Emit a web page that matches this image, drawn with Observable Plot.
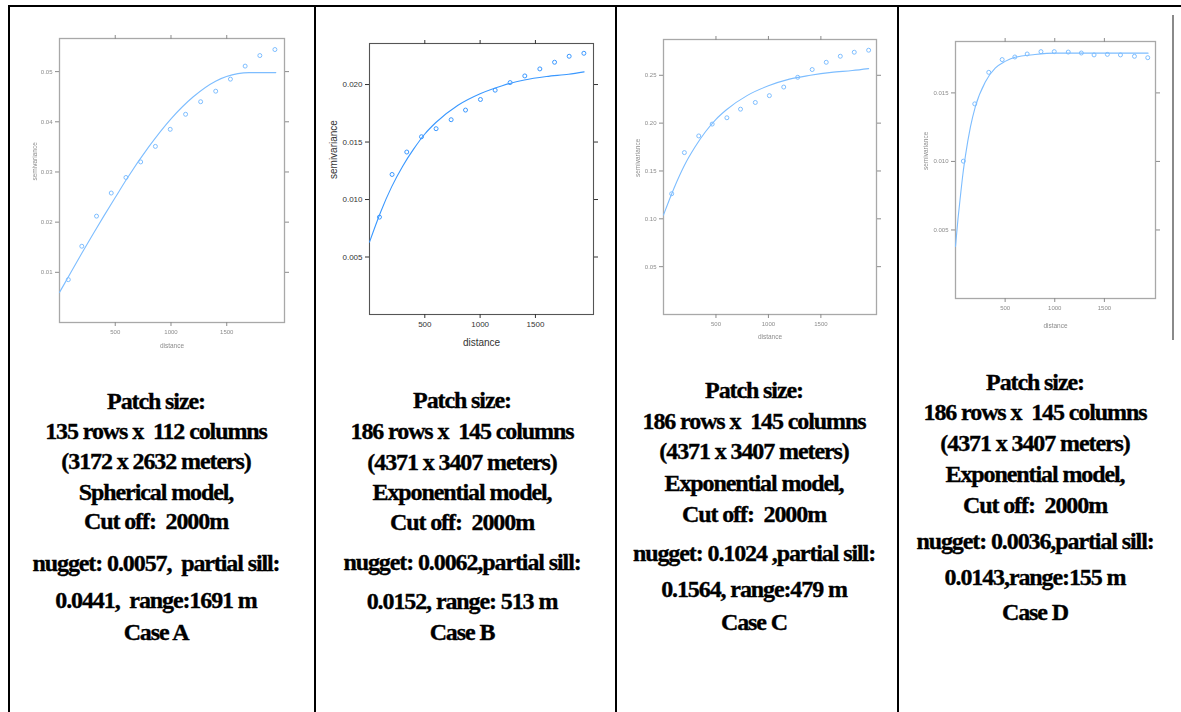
<!DOCTYPE html>
<html><head><meta charset="utf-8">
<script src="https://cdn.jsdelivr.net/npm/d3@7"></script>
<script src="https://cdn.jsdelivr.net/npm/@observablehq/plot@0.6"></script>
<style>
html,body{margin:0;padding:0;background:#fff;}
#root{position:relative;width:1181px;height:712px;overflow:hidden;background:#fff;}
.rule{position:absolute;background:#000;}
.panel{position:absolute;}
.faded{filter:blur(0.6px);}
.cap{position:absolute;transform:translate(-50%,-50%);white-space:pre;font-family:"Liberation Serif",serif;font-weight:bold;font-size:24px;letter-spacing:-1.1px;color:#000;line-height:1;-webkit-text-stroke:0.35px #000;}
</style></head><body><div id="root"></div>
<script>
// ---------- data ----------
const xTickValues = [500, 1000, 1500];

// Case A (spherical)
const aDist  = [79,200,332,464,596,728,860,993,1131,1266,1401,1533,1665,1797,1932];
const aGamma = [0.00854,0.0152,0.0212,0.0258,0.0289,0.0320,0.0351,0.0385,0.0415,0.0440,0.0461,0.0485,0.0511,0.0532,0.0544];
const aFitDist  = [0,100,200,300,400,500,600,800,1000,1200,1400,1600,1700,1940];
const aFitGamma = [0.0060,0.0099,0.0138,0.0176,0.0213,0.0249,0.0285,0.0350,0.0406,0.0450,0.0481,0.0496,0.0498,0.0498];
const aYTicks = [0.01,0.02,0.03,0.04,0.05];

// Case B (exponential)
const bDist  = [90,204,337,470,602,738,868,1003,1136,1271,1404,1540,1673,1805,1938];
const bGamma = [0.00847,0.01218,0.01413,0.01546,0.01616,0.01694,0.01778,0.01870,0.01951,0.02017,0.02075,0.02136,0.02194,0.02246,0.02272];
const bFitDist  = [0,100,200,300,400,500,600,800,1000,1200,1400,1600,1800,1940];
const bFitGamma = [0.0063,0.0089,0.0111,0.0129,0.0144,0.0157,0.0167,0.0182,0.0192,0.0199,0.0204,0.0207,0.0209,0.0211];
const bYTicks = [0.005,0.010,0.015,0.020];

// Case C (exponential)
const cDist  = [78,199,336,464,604,734,875,1009,1146,1279,1417,1551,1685,1818,1955];
const cGamma = [0.1262,0.1692,0.1866,0.1990,0.2056,0.2146,0.2216,0.2287,0.2377,0.2479,0.2560,0.2636,0.2699,0.2741,0.2762];
const cFitDist  = [0,100,200,300,400,500,600,800,1000,1200,1400,1600,1800,1955];
const cFitGamma = [0.104,0.132,0.156,0.175,0.191,0.204,0.214,0.229,0.239,0.246,0.250,0.253,0.255,0.257];
const cYTicks = [0.05,0.10,0.15,0.20,0.25];

// Case D (exponential)
const dDist  = [79,194,335,470,598,722,861,995,1136,1268,1396,1530,1662,1803,1937];
const dGamma = [0.01002,0.0142,0.0165,0.01743,0.01762,0.01784,0.01801,0.01801,0.01798,0.01791,0.01777,0.01781,0.01777,0.01767,0.01757];
const dFitDist  = [0,25,50,75,100,150,200,300,400,500,600,800,1000,1940];
const dFitGamma = [0.0038,0.0058,0.0075,0.0091,0.0104,0.0125,0.0140,0.0158,0.0168,0.0173,0.0176,0.0178,0.0179,0.0179];
const dYTicks = [0.005,0.010,0.015];

const xLabel = "distance";
const yLabel = "semivariance";

const aText = ["Patch size:", "135 rows x  112 columns", "(3172 x 2632 meters)", "Spherical model,", "Cut off:  2000m", "nugget: 0.0057,  partial sill:", "0.0441,  range:1691 m", "Case A"];
const bText = ["Patch size:", "186 rows x  145 columns", "(4371 x 3407 meters)", "Exponential model,", "Cut off:  2000m", "nugget: 0.0062,partial sill:", "0.0152, range: 513 m", "Case B"];
const cText = ["Patch size:", "186 rows x  145 columns", "(4371 x 3407 meters)", "Exponential model,", "Cut off:  2000m", "nugget: 0.1024 ,partial sill:", "0.1564, range:479 m", "Case C"];
const dText = ["Patch size:", "186 rows x  145 columns", "(4371 x 3407 meters)", "Exponential model,", "Cut off:  2000m", "nugget: 0.0036,partial sill:", "0.0143,range:155 m", "Case D"];

// ---------- layout ----------
const root = document.getElementById("root");
function rule(l, t, w, h, color) {
  const d = document.createElement("div");
  d.className = "rule";
  Object.assign(d.style, {left: l+"px", top: t+"px", width: w+"px", height: h+"px"});
  if (color) d.style.background = color;
  root.appendChild(d);
}
rule(8, 5, 1173, 2);
rule(8, 5, 2, 707);
rule(314, 5, 2, 707);
rule(615, 5, 2, 707);
rule(897, 5, 2, 707);
rule(1172, 15, 2, 325, "#8a8a8a");

function variogram(cfg) {
  const pts = cfg.dist.map((d, i) => ({d, g: cfg.gamma[i]}));
  const fit = cfg.fitDist.map((d, i) => ({d, g: cfg.fitGamma[i]}));
  const fmt = d3.format(cfg.fmt);
  const none = () => "";
  const plot = Plot.plot({
    width: cfg.w, height: cfg.h,
    marginLeft: cfg.mL, marginRight: cfg.mR, marginTop: cfg.mT, marginBottom: cfg.mB,
    style: {fontFamily: "Liberation Sans, Arial, sans-serif", background: "transparent", overflow: "visible"},
    x: {domain: [0, cfg.xMax]},
    y: {domain: [0, cfg.yMax]},
    marks: [
      Plot.frame({stroke: cfg.frame, strokeWidth: cfg.frameW}),
      Plot.axisX({anchor: "bottom", ticks: xTickValues, tickFormat: d3.format("d"), tickSize: 4, tickPadding: 3, label: null, color: cfg.tickColor, fontSize: cfg.tickFont}),
      Plot.axisX({anchor: "top", ticks: xTickValues, tickFormat: none, tickSize: 4, label: null, color: cfg.tickColor}),
      Plot.axisY({anchor: "left", ticks: cfg.yTicks, tickFormat: fmt, tickSize: 4, tickPadding: 3, label: null, color: cfg.tickColor, fontSize: cfg.tickFont}),
      Plot.axisY({anchor: "right", ticks: cfg.yTicks, tickFormat: none, tickSize: 4, label: null, color: cfg.tickColor}),
      Plot.text([yLabel], {text: d => d, frameAnchor: "left", dx: -cfg.yLabOff, rotate: -90, fontSize: cfg.labFont, fill: cfg.tickColor}),
      Plot.text([xLabel], {text: d => d, frameAnchor: "bottom", dy: cfg.xLabOff, fontSize: cfg.labFont, fill: cfg.tickColor}),
      Plot.line(fit, {x: "d", y: "g", stroke: cfg.color, strokeWidth: 1.1, curve: "monotone-x"}),
      Plot.dot(pts, {x: "d", y: "g", r: 2, stroke: cfg.color, fill: "none", strokeWidth: 1})
    ]
  });
  const wrap = document.createElement("div");
  wrap.className = "panel" + (cfg.faded ? " faded" : "");
  wrap.style.left = cfg.left + "px";
  wrap.style.top = cfg.top + "px";
  wrap.appendChild(plot);
  root.appendChild(wrap);
}

const fadedStyle = {faded: true, frame: "#a8a8a8", frameW: 1.3, tickColor: "#8c8c8c", color: "#7dbdff", tickFont: 6, labFont: 6.5, xMax: 2018};

variogram({...fadedStyle, dist: aDist, gamma: aGamma, fitDist: aFitDist, fitGamma: aFitGamma, yTicks: aYTicks, fmt: ".2f",
  left: 20, top: 20, w: 280, h: 340, mL: 39, mR: 16, mT: 18, mB: 38, yMax: 0.0566, yLabOff: 25, xLabOff: 25});
variogram({faded: false, frame: "#555", frameW: 1.1, tickColor: "#333", color: "#3a98ff", tickFont: 8, labFont: 10, xMax: 2025,
  dist: bDist, gamma: bGamma, fitDist: bFitDist, fitGamma: bFitGamma, yTicks: bYTicks, fmt: ".3f",
  left: 320, top: 25, w: 290, h: 340, mL: 49, mR: 17, mT: 18, mB: 51, yMax: 0.02357, yLabOff: 36, xLabOff: 31});
variogram({...fadedStyle, dist: cDist, gamma: cGamma, fitDist: cFitDist, fitGamma: cFitGamma, yTicks: cYTicks, fmt: ".2f",
  left: 620, top: 20, w: 276, h: 330, mL: 43, mR: 20, mT: 19, mB: 36, yMax: 0.2874, yLabOff: 26, xLabOff: 24, xMax: 2030});
variogram({...fadedStyle, dist: dDist, gamma: dGamma, fitDist: dFitDist, fitGamma: dFitGamma, yTicks: dYTicks, fmt: ".3f",
  left: 905, top: 20, w: 265, h: 320, mL: 50, mR: 15, mT: 21, mB: 42, yMax: 0.01875, yLabOff: 30, xLabOff: 29, xMax: 2015});

function caption(lines, cx, ys) {
  lines.forEach((t, i) => {
    const d = document.createElement("div");
    d.className = "cap";
    d.textContent = t;
    d.style.left = cx + "px";
    d.style.top = ys[i] + "px";
    root.appendChild(d);
  });
}
caption(aText, 156, [401, 431, 461, 492, 521, 563, 600, 632]);
caption(bText, 462, [400, 431, 462, 492, 522, 562, 601, 632]);
caption(cText, 754, [390, 421, 451, 483, 514, 553, 589, 622]);
caption(dText, 1035, [382, 412, 443, 474, 505, 541, 577, 612]);
</script></body></html>
